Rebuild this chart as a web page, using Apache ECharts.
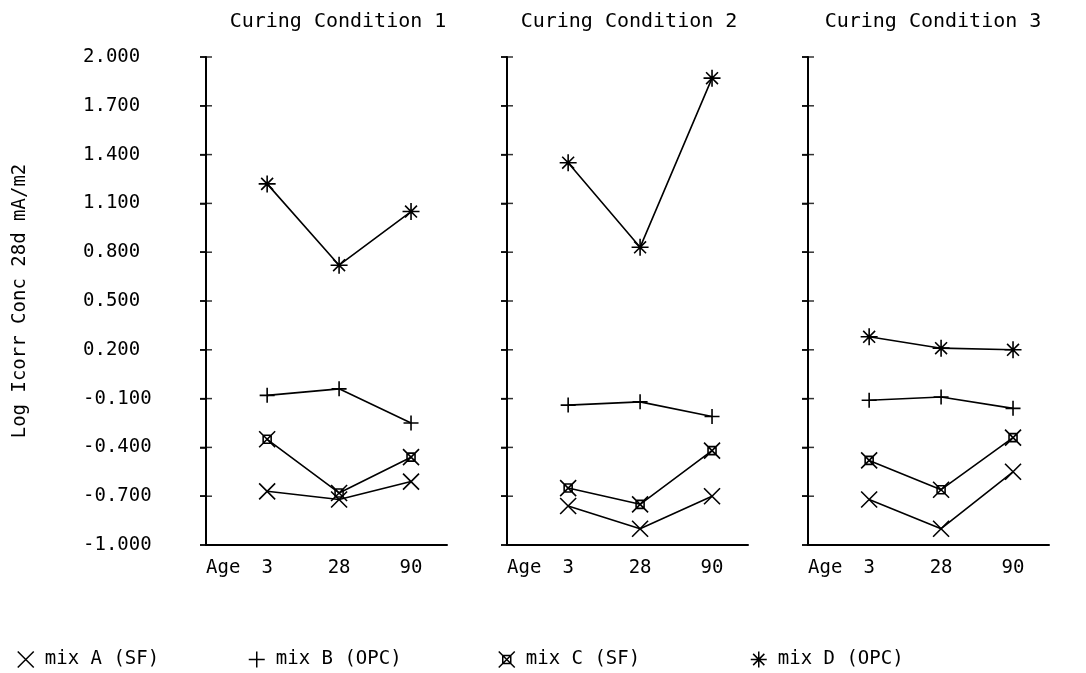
<!DOCTYPE html>
<html>
<head>
<meta charset="utf-8">
<script src="https://cdn.jsdelivr.net/npm/echarts@6/dist/echarts.min.js"></script>
<style>
  html, body { margin: 0; padding: 0; background: #fff; }
  #chart { width: 1086px; height: 673px; }
</style>
</head>
<body>
<div id="chart"></div>
<script>
// age (days) on the x axis, placed at positions 0, 1, 2
const ageLabels = ['3', '28', '90']
const agePos = [0, 1, 2]
const conditions = ['Curing Condition 1', 'Curing Condition 2', 'Curing Condition 3']
const yTicks = [-1.0, -0.7, -0.4, -0.1, 0.2, 0.5, 0.8, 1.1, 1.4, 1.7, 2.0]
const mixNames = ['mix A (SF)', 'mix B (OPC)', 'mix C (SF)', 'mix D (OPC)']

// one row per curing condition, values for age 3, 28, 90
const mixA = [[-0.67, -0.72, -0.61], [-0.76, -0.90, -0.70], [-0.72, -0.90, -0.55]]
const mixB = [[-0.08, -0.04, -0.25], [-0.14, -0.12, -0.21], [-0.11, -0.09, -0.16]]
const mixC = [[-0.35, -0.68, -0.46], [-0.65, -0.75, -0.42], [-0.48, -0.66, -0.34]]
const mixD = [[1.22, 0.72, 1.05], [1.35, 0.83, 1.87], [0.28, 0.21, 0.20]]

const FONT = 'DejaVu Sans Mono'
const FS = 19
const X_MIN = -0.85
const X_MAX = 2.5
const symX = 'path://M0,0L10,10M10,0L0,10'
const symPlus = 'path://M0,5L10,5M5,0L5,10'
const symBox = 'path://M4,4L12,4L12,12L4,12ZM0,0L16,16M16,0L0,16'
const symStar = 'path://M0,5L10,5M5,0L5,10M1.5,1.5L8.5,8.5M8.5,1.5L1.5,8.5'
const mixSym = [symX, symPlus, symBox, symStar]
const mixSize = [16, 15, 16, 17]
const mixData = [mixA, mixB, mixC, mixD]

const gridLeft = [206, 507, 808]
const gridWidth = 241
const titleX = [338, 629, 933]
const legendLeft = [12, 243, 493, 745]

const chart = echarts.init(document.getElementById('chart'))

const grids = gridLeft.map(l => ({ left: l, width: gridWidth, top: 57, height: 488 }))

const xAxes = gridLeft.map((l, i) => ({
  type: 'value',
  gridIndex: i,
  min: X_MIN,
  max: X_MAX,
  axisLine: { onZero: false, lineStyle: { color: '#000', width: 2 } },
  axisTick: { show: false },
  splitLine: { show: false },
  axisLabel: {
    customValues: agePos,
    formatter: v => ageLabels[Math.round(v)],
    margin: 14,
    color: '#000',
    fontSize: FS,
    fontFamily: FONT
  },
  name: 'Age',
  nameLocation: 'start',
  nameGap: 0,
  nameTextStyle: {
    align: 'left',
    verticalAlign: 'top',
    padding: [14, 0, 0, 0],
    color: '#000',
    fontSize: FS,
    fontFamily: FONT
  }
}))

const yAxes = gridLeft.map((l, i) => ({
  type: 'value',
  gridIndex: i,
  position: 'left',
  min: -1,
  max: 2,
  axisLine: { show: true, onZero: false, lineStyle: { color: '#000', width: 2 } },
  axisTick: { customValues: yTicks, length: 6, lineStyle: { color: '#000', width: 1.5 } },
  splitLine: { show: false },
  axisLabel: {
    show: i === 0,
    customValues: yTicks,
    formatter: v => v.toFixed(3),
    align: 'left',
    margin: 123,
    color: '#000',
    fontSize: FS,
    fontFamily: FONT
  },
  name: i === 0 ? 'Log Icorr Conc 28d mA/m2' : '',
  nameLocation: 'middle',
  nameGap: 176,
  nameTextStyle: { color: '#000', fontSize: FS, fontFamily: FONT }
}))

const series = []
conditions.forEach((c, i) => {
  mixNames.forEach((name, m) => {
    series.push({
      name: name,
      type: 'line',
      xAxisIndex: i,
      yAxisIndex: i,
      data: agePos.map((x, k) => [x, mixData[m][i][k]]),
      symbol: mixSym[m],
      symbolSize: mixSize[m],
      itemStyle: { color: 'transparent', borderColor: '#000', borderWidth: 1.6 },
      lineStyle: { color: '#000', width: 1.6 },
      emphasis: { disabled: true },
      animation: false
    })
  })
  // short dashes on the y axis line so each tick crosses it like the plotter ticks
  series.push({
    type: 'scatter',
    xAxisIndex: i,
    yAxisIndex: i,
    data: yTicks.map(v => [X_MIN, v]),
    symbol: 'rect',
    symbolSize: [12, 1.5],
    itemStyle: { color: '#000' },
    clip: false,
    silent: true,
    emphasis: { disabled: true },
    animation: false
  })
})

const legends = mixNames.map((name, m) => ({
  left: legendLeft[m],
  top: 645,
  itemWidth: 16,
  itemHeight: 16,
  itemGap: 10,
  selectedMode: false,
  data: [{ name: name, icon: mixSym[m] }],
  itemStyle: { color: 'transparent', borderColor: '#000', borderWidth: 1.5 },
  textStyle: { color: '#000', fontSize: FS, fontFamily: FONT, padding: [0, 0, 0, 6] }
}))

const option = {
  backgroundColor: '#fff',
  animation: false,
  grid: grids,
  xAxis: xAxes,
  yAxis: yAxes,
  legend: legends,
  graphic: conditions.map((c, i) => ({
    type: 'text',
    x: titleX[i],
    y: 22,
    style: {
      text: c,
      fill: '#000',
      font: '20px ' + FONT,
      textAlign: 'center',
      textVerticalAlign: 'middle'
    }
  })),
  series: series
}

chart.setOption(option)
</script>
</body>
</html>
